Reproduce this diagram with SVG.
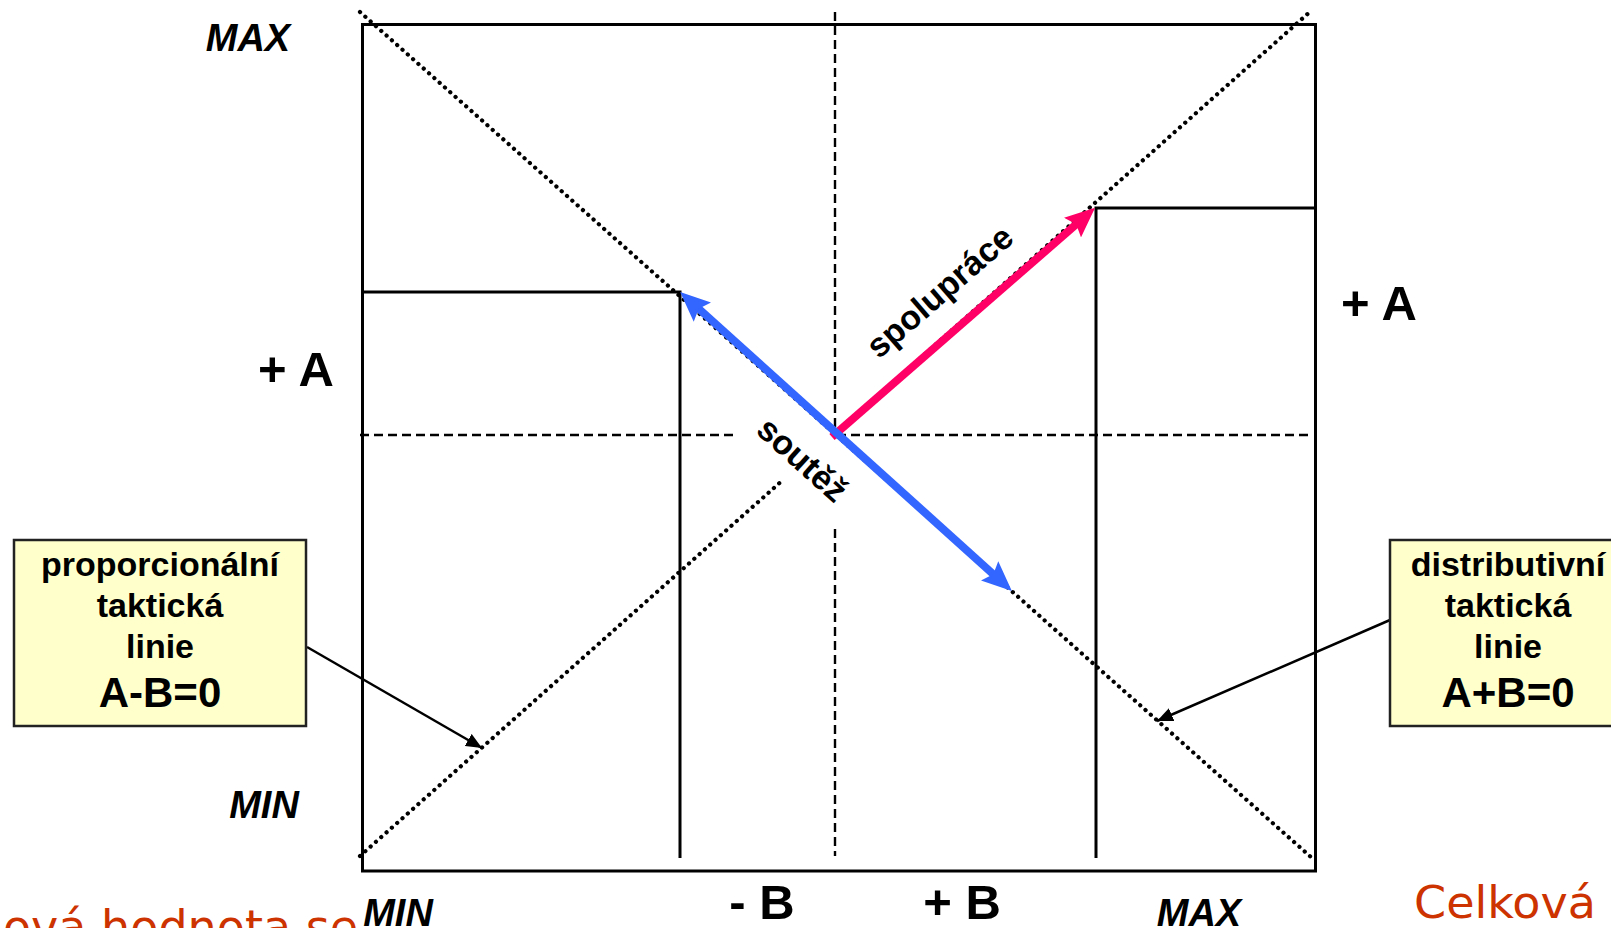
<svg xmlns="http://www.w3.org/2000/svg" width="1611" height="928" viewBox="0 0 1611 928">
<style>
.lbl{font-family:"Liberation Sans",Arial,sans-serif;font-weight:bold;fill:#000}
.it{font-style:italic}
.dot{fill:none;stroke:#000;stroke-width:4.2;stroke-dasharray:0.1 7;stroke-linecap:round}
.dash{fill:none;stroke:#000;stroke-width:2.4;stroke-dasharray:9 5}
.solid{fill:none;stroke:#000;stroke-width:3}
.box{fill:#ffffcc;stroke:#222;stroke-width:2.5}
.red{font-family:"Comic Sans MS","DejaVu Sans",sans-serif;fill:#cc3300}
</style>
<defs>
<marker id="hp" viewBox="0 0 30 26" refX="10" refY="13" markerWidth="30" markerHeight="26" markerUnits="userSpaceOnUse" orient="auto-start-reverse">
<path d="M0,0 L30,13 L0,26 L5,13 z" fill="#ff0066"/>
</marker>
<marker id="hb" viewBox="0 0 30 26" refX="10" refY="13" markerWidth="30" markerHeight="26" markerUnits="userSpaceOnUse" orient="auto-start-reverse">
<path d="M0,0 L30,13 L0,26 L5,13 z" fill="#3366ff"/>
</marker>
<marker id="hk" viewBox="0 0 16 14" refX="16" refY="7" markerWidth="16" markerHeight="14" markerUnits="userSpaceOnUse" orient="auto">
<path d="M0,0 L16,7 L0,14 z" fill="#000"/>
</marker>
</defs>
<rect width="1611" height="928" fill="#fff"/>

<g id="frame">
<rect x="362.5" y="24.5" width="953" height="846.5" fill="none" stroke="#000" stroke-width="3"/>
<line class="dash" x1="835" y1="12" x2="835" y2="434"/>
<line class="dash" x1="835" y1="529" x2="835" y2="856"/>
<line class="dash" x1="360" y1="435" x2="737" y2="435"/>
<line class="dash" x1="837" y1="435" x2="1311" y2="435"/>
<line class="dot" x1="360" y1="12" x2="1312" y2="858"/>
<line class="dot" x1="360" y1="856" x2="784" y2="479"/>
<line class="dot" x1="835" y1="434" x2="1312" y2="10"/>
<polyline class="solid" points="362,292 680,292 680,858"/>
<polyline class="solid" points="1314,208 1096,208 1096,858"/>
</g>

<g id="connectors">
<line x1="832" y1="437" x2="1080" y2="221" stroke="#ff0066" stroke-width="8" marker-end="url(#hp)"/>
<line x1="695" y1="305.4" x2="997" y2="577.6" stroke="#3366ff" stroke-width="8" marker-start="url(#hb)" marker-end="url(#hb)"/>
<line x1="307" y1="647" x2="482" y2="748" stroke="#000" stroke-width="2.5" marker-end="url(#hk)"/>
<line x1="1390" y1="620" x2="1157" y2="721" stroke="#000" stroke-width="2.5" marker-end="url(#hk)"/>
</g>

<g id="axis-labels">
<text class="lbl it" x="248" y="51" font-size="38" text-anchor="middle">MAX</text>
<text class="lbl it" x="264" y="818" font-size="38" text-anchor="middle">MIN</text>
<text class="lbl it" x="398" y="926" font-size="38" text-anchor="middle">MIN</text>
<text class="lbl it" x="1199" y="926" font-size="38" text-anchor="middle">MAX</text>
<text class="lbl" x="762" y="919" font-size="49" text-anchor="middle">- B</text>
<text class="lbl" x="962" y="919" font-size="49" text-anchor="middle">+ B</text>
<text class="lbl" x="296" y="386" font-size="49" text-anchor="middle">+ A</text>
<text class="lbl" x="1379" y="320" font-size="49" text-anchor="middle">+ A</text>
</g>

<g id="arrow-labels">
<text class="lbl" font-size="34" text-anchor="middle" transform="translate(940,292) rotate(-41)" y="11">spolupráce</text>
<text class="lbl" font-size="34" text-anchor="middle" transform="translate(802,460) rotate(42)" y="11">soutěž</text>
</g>

<g id="box-proporcionalni">
<rect class="box" x="14" y="540" width="292" height="186"/>
<text class="lbl" x="160" y="576" font-size="34" text-anchor="middle">proporcionální</text>
<text class="lbl" x="160" y="617" font-size="34" text-anchor="middle">taktická</text>
<text class="lbl" x="160" y="658" font-size="34" text-anchor="middle">linie</text>
<text class="lbl" x="160" y="707" font-size="42" text-anchor="middle">A-B=0</text>
</g>

<g id="box-distributivni">
<rect class="box" x="1390" y="540" width="240" height="186"/>
<text class="lbl" x="1508" y="576" font-size="34" text-anchor="middle">distributivní</text>
<text class="lbl" x="1508" y="617" font-size="34" text-anchor="middle">taktická</text>
<text class="lbl" x="1508" y="658" font-size="34" text-anchor="middle">linie</text>
<text class="lbl" x="1508" y="707" font-size="42" text-anchor="middle">A+B=0</text>
</g>

<g id="slide-text">
<text class="red" x="358" y="943" font-size="46" text-anchor="end">ová hodnota se</text>
<text class="red" x="1414" y="918" font-size="45" textLength="182" lengthAdjust="spacingAndGlyphs">Celková</text>
</g>
</svg>
